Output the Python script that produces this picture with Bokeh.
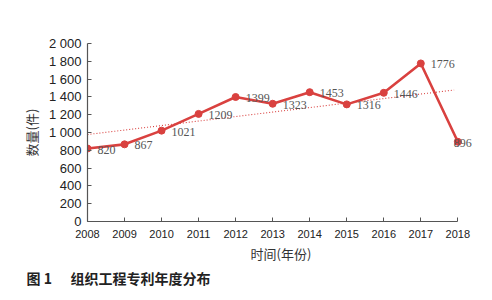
from bokeh.plotting import figure
from bokeh.models import ColumnDataSource, Range1d, FixedTicker, Title, LabelSet
from bokeh.embed import file_html
from bokeh.resources import INLINE
import numpy as np

years = [2008, 2009, 2010, 2011, 2012, 2013, 2014, 2015, 2016, 2017, 2018]
counts = [820, 867, 1021, 1209, 1399, 1323, 1453, 1316, 1446, 1776, 896]
y_ticks = [0, 200, 400, 600, 800, 1000, 1200, 1400, 1600, 1800, 2000]
y_tick_labels = ["0", "200", "400", "600", "800", "1 000", "1 200", "1 400", "1 600", "1 800", "2 000"]
x_label = "时间(年份)"
y_label = "数量(件)"
caption = "图 1\u3000\u2004组织工程专利年度分布"

red = "#d9413f"

p = figure(width=488, height=288, output_backend="svg", toolbar_location=None,
           x_range=Range1d(2008, 2018.45), y_range=Range1d(0, 2000),
           min_border_left=87, min_border_right=14, min_border_top=43, min_border_bottom=10)
p.outline_line_color = None
p.grid.grid_line_color = None
p.background_fill_color = "white"

# trend line (linear fit of the series)
k, b = np.polyfit(np.array(years, dtype=float), np.array(counts, dtype=float), 1)
tx = [years[0], years[-1] - 0.1]
p.line(tx, [k * x + b for x in tx], line_color=red, line_width=1.1, line_dash="1 2")

x_off = [10] * (len(years) - 1) + [-4]
src = ColumnDataSource(dict(x=years, y=counts, t=[str(c) for c in counts], xo=x_off))
p.line("x", "y", source=src, line_color=red, line_width=2.6)
p.scatter("x", "y", source=src, size=7, fill_color=red, line_color=red)

labels = LabelSet(x="x", y="y", text="t", source=src, x_offset="xo", y_offset=-1,
                  text_font="Liberation Serif", text_font_size="12px", text_color="#555555",
                  text_baseline="middle")
p.add_layout(labels)

p.xaxis.ticker = FixedTicker(ticks=years)
p.xaxis.bounds = (2008, 2018)
p.yaxis.ticker = FixedTicker(ticks=y_ticks)
p.yaxis.major_label_overrides = {t: l for t, l in zip(y_ticks, y_tick_labels)}
for ax in (p.xaxis, p.yaxis):
    ax.axis_line_color = "#555555"
    ax.axis_line_width = 1.2
    ax.major_tick_line_color = "#555555"
    ax.major_tick_in = 4
    ax.major_tick_out = 0
    ax.minor_tick_line_color = None
    ax.major_label_text_font = "Liberation Sans"
    ax.major_label_text_color = "#222222"
    ax.axis_label_text_font = "Noto Sans CJK SC"
    ax.axis_label_text_font_style = "normal"
    ax.axis_label_text_color = "#333333"
    ax.axis_label_text_font_size = "13px"
p.xaxis.major_label_text_font_size = "11px"
p.yaxis.major_label_text_font_size = "13px"
p.xaxis.major_label_standoff = 8
p.yaxis.major_label_standoff = 6
p.xaxis.axis_label = x_label
p.yaxis.axis_label = y_label
p.xaxis.axis_label_standoff = 3
p.yaxis.axis_label_standoff = 5

t = Title(text=caption, align="left", text_font="Noto Sans CJK SC", text_font_size="14px",
          text_font_style="bold", text_color="#222222", offset=-61, standoff=1)
p.add_layout(t, "below")

open("out.html", "w").write(file_html(p, INLINE))
